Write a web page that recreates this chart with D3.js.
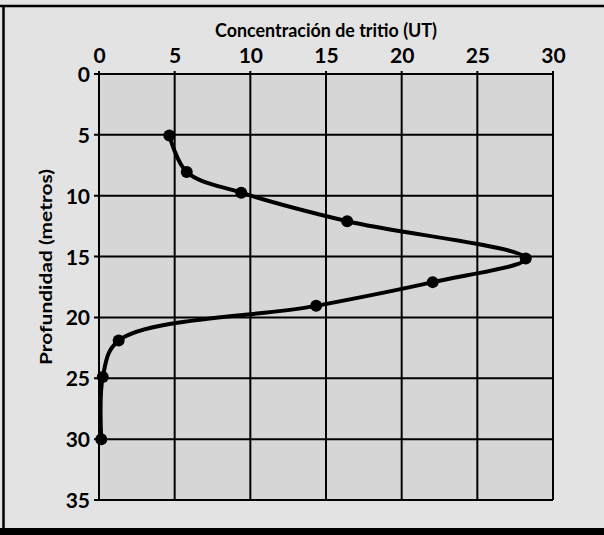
<!DOCTYPE html>
<html><head><meta charset="utf-8">
<script src="https://cdn.jsdelivr.net/npm/d3@7"></script>
<style>
html,body{margin:0;padding:0;background:#fff;}
svg{display:block;}
text{font-family:"Lato","Open Sans",sans-serif;fill:#000;}
</style></head>
<body>
<svg id="chart" width="604" height="535"></svg>
<script>
const xTicks = [0, 5, 10, 15, 20, 25, 30];
const yTicks = [0, 5, 10, 15, 20, 25, 30, 35];
const tritio = [4.65, 5.8, 9.4, 16.4, 28.2, 22.05, 14.35, 1.3, 0.25, 0.15];
const profundidad = [5.05, 8.05, 9.75, 12.1, 15.15, 17.1, 19.05, 21.9, 24.9, 30];
const xTitle = "Concentración de tritio (UT)";
const yTitle = "Profundidad (metros)";

const svg = d3.select("#chart");
const W = 604, H = 535;

svg.append("rect").attr("width",W).attr("height",H).attr("fill","#e3e3e3");

const x = d3.scaleLinear().domain([0,30]).range([99,553]);
const y = d3.scaleLinear().domain([0,35]).range([74,500]);

svg.append("rect").attr("x",x(0)).attr("y",y(0)).attr("width",x(30)-x(0)).attr("height",y(35)-y(0))
  .attr("fill","#d6d6d6");

// outer frame
svg.append("line").attr("x1",0).attr("x2",W).attr("y1",6).attr("y2",6).attr("stroke","#000").attr("stroke-width",2.5);
svg.append("line").attr("x1",3.5).attr("x2",3.5).attr("y1",5).attr("y2",H).attr("stroke","#000").attr("stroke-width",2.5);
svg.append("rect").attr("x",0).attr("y",528).attr("width",W).attr("height",7).attr("fill","#000");

// grid
const g = svg.append("g");
g.selectAll(".vx").data(xTicks).join("line")
  .attr("x1",d=>x(d)).attr("x2",d=>x(d)).attr("y1",y(0)-3).attr("y2",y(35))
  .attr("stroke","#000").attr("stroke-width",2);
g.selectAll(".hy").data(yTicks).join("line")
  .attr("x1",x(0)-5).attr("x2",x(30)).attr("y1",d=>y(d)).attr("y2",d=>y(d))
  .attr("stroke","#000").attr("stroke-width",2);

const topAxis = d3.axisTop(x).tickValues(xTicks).tickSize(0).tickPadding(0);
const ta = svg.append("g").attr("transform",`translate(0,63)`).call(topAxis);
ta.select(".domain").remove();
ta.attr("font-size",null).attr("font-family",null);
ta.selectAll("text").attr("font-size",21).attr("font-weight",700).attr("dy",0).style("font-family","Lato, sans-serif");

const leftAxis = d3.axisLeft(y).tickValues(yTicks).tickSize(0).tickPadding(0);
const la = svg.append("g").attr("transform",`translate(90,0)`).call(leftAxis);
la.select(".domain").remove();
la.attr("font-size",null).attr("font-family",null);
la.selectAll("text").attr("font-size",21).attr("font-weight",700).attr("dy","0.36em").style("font-family","Lato, sans-serif");

svg.append("text").attr("x",326).attr("y",37).attr("text-anchor","middle")
  .attr("font-size",18).attr("font-weight",700).attr("textLength",222).attr("lengthAdjust","spacingAndGlyphs").text(xTitle);
svg.append("text").attr("transform","translate(52,267) rotate(-90)").attr("text-anchor","middle")
  .attr("font-size",17).attr("font-weight",700).attr("textLength",196).attr("lengthAdjust","spacingAndGlyphs").text(yTitle);

const data = tritio.map((t,i)=>({t, d: profundidad[i]}));
const line = d3.line().x(d=>x(d.t)).y(d=>y(d.d)).curve(d3.curveCatmullRom.alpha(0.5));
svg.append("path").datum(data).attr("d",line).attr("fill","none").attr("stroke","#000")
  .attr("stroke-width",4).attr("stroke-linejoin","round").attr("stroke-linecap","round");
svg.selectAll(".pt").data(data).join("circle")
  .attr("cx",d=>x(d.t)).attr("cy",d=>y(d.d)).attr("r",6).attr("fill","#000");
</script>
</body></html>
